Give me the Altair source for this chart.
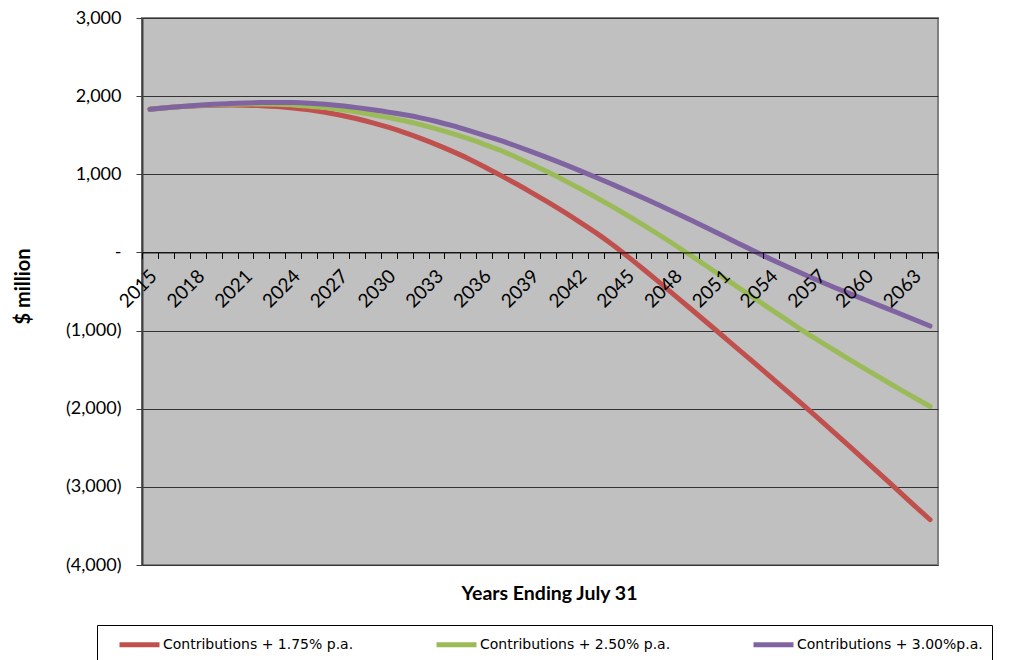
import altair as alt
import pandas as pd

# Fiscal years (ending July 31)
YEARS = [2015, 2016, 2017, 2018, 2019, 2020, 2021, 2022, 2023, 2024,
         2025, 2026, 2027, 2028, 2029, 2030, 2031, 2032, 2033, 2034,
         2035, 2036, 2037, 2038, 2039, 2040, 2041, 2042, 2043, 2044,
         2045, 2046, 2047, 2048, 2049, 2050, 2051, 2052, 2053, 2054,
         2055, 2056, 2057, 2058, 2059, 2060, 2061, 2062, 2063, 2064]

# Projected balance, $ million
RATE_175 = [1833, 1851, 1866, 1877, 1884, 1887, 1885, 1878, 1866, 1848,
            1824, 1793, 1755, 1710, 1658, 1599, 1533, 1460, 1380, 1293,
            1200, 1097, 989, 878, 763, 643, 518, 388, 253, 108,
            -50, -215, -384, -555, -727, -900, -1073, -1246, -1420, -1595,
            -1771, -1948, -2127, -2308, -2491, -2676, -2862, -3049, -3237, -3420]
RATE_250 = [1833, 1852, 1868, 1880, 1890, 1897, 1901, 1900, 1896, 1888,
            1872, 1853, 1828, 1797, 1762, 1725, 1685, 1635, 1580, 1520,
            1455, 1384, 1307, 1219, 1126, 1028, 925, 818, 707, 592,
            473, 350, 223, 92, -43, -180, -317, -454, -591, -728,
            -864, -1000, -1128, -1254, -1378, -1500, -1620, -1739, -1856, -1972]
RATE_300 = [1833, 1852, 1868, 1882, 1895, 1905, 1913, 1918, 1920, 1918,
            1910, 1897, 1878, 1853, 1825, 1795, 1761, 1722, 1676, 1622,
            1562, 1499, 1434, 1362, 1287, 1210, 1130, 1047, 962, 875,
            787, 697, 604, 509, 412, 313, 213, 112, 11, -86,
            -181, -273, -362, -448, -531, -612, -693, -775, -858, -942]

SERIES = ["Contributions + 1.75% p.a.",
          "Contributions + 2.50% p.a.",
          "Contributions + 3.00%p.a."]
COLORS = ["#C0504D", "#9BBB59", "#8064A2"]

Y_TICKS = [3000, 2000, 1000, 0, -1000, -2000, -3000, -4000]
Y_MIN, Y_MAX = -4000, 3000

W, H = 796, 547

rows = []
for name, vals in zip(SERIES, [RATE_175, RATE_250, RATE_300]):
    for yr, v in zip(YEARS, vals):
        rows.append({"year": yr, "value": v, "series": name})
df = pd.DataFrame(rows)

# category boundaries: ticks sit between years, labels on the year itself
x_bounds = [y - 0.5 for y in YEARS] + [YEARS[-1] + 0.5]
zero_offset = -H * (0 - Y_MIN) / (Y_MAX - Y_MIN)   # lift the x axis up to the zero line
half_band = W / len(YEARS) / 2

x_axis = alt.Axis(
    values=x_bounds, offset=zero_offset, grid=False, zindex=1,
    domainColor="black", domainWidth=1, tickColor="black", tickSize=6, tickWidth=1,
    labelAngle=-45, labelAlign="right", labelBaseline="top",
    labelOffset=half_band - 3, labelPadding=8, labelFlush=False, labelOverlap=False,
    labelExpr="(datum.value + 0.5) % 3 == 2 ? toString(datum.value + 0.5) : ''",
    labelFont="Lato", labelFontSize=19, labelColor="black",
    title="Years Ending July 31", titleFont="Lato", titleFontSize=19.5, titleFontWeight="bold",
    titleColor="black", titleX=W / 2 + 9, titleY=341, titleAlign="center", titleBaseline="middle",
)

y_axis = alt.Axis(
    values=Y_TICKS, grid=True, gridColor="#333333", gridWidth=1,
    domainColor="#404040", domainWidth=2, tickColor="#404040", tickSize=6,
    labelPadding=15, labelFont="Lato", labelFontSize=18, labelColor="black",
    labelExpr="datum.value == 0 ? '-' : (datum.value < 0 ? '(' + format(-datum.value, ',') + ')' : format(datum.value, ','))",
    title="$ million", titleFont="Lato", titleFontSize=20, titleFontWeight="bold",
    titleColor="black", titleX=-119, titleY=268, titleAngle=-90,
    titleAlign="center", titleBaseline="middle",
)

# wide, flat line swatch in a short legend row
legend = alt.Legend(
    title=None, orient="none", legendX=-45, legendY=607,
    direction="horizontal", columns=3, columnPadding=69, gridAlign="all",
    symbolType="M-2.5,0H2.5", symbolSize=256, symbolStrokeWidth=5, symbolOffset=23,
    labelOffset=13, labelFont="DejaVu Sans", labelFontSize=14, labelColor="black",
    labelLimit=400, padding=9, strokeColor="black", fillColor="white",
)

chart = (
    alt.Chart(df)
    .mark_line(strokeWidth=5, strokeCap="round", interpolate="monotone")
    .encode(
        x=alt.X("year:Q", scale=alt.Scale(domain=[x_bounds[0], x_bounds[-1]], nice=False, zero=False), axis=x_axis),
        y=alt.Y("value:Q", scale=alt.Scale(domain=[Y_MIN, Y_MAX], nice=False), axis=y_axis),
        color=alt.Color("series:N", scale=alt.Scale(domain=SERIES, range=COLORS), legend=legend),
    )
    .properties(
        width=W, height=H,
        autosize=alt.AutoSizeParams(type="none"),
        padding={"left": 142, "top": 18, "right": 86, "bottom": 95},
    )
    .configure(background="white")
    .configure_view(fill="#C0C0C0", stroke="#808080", strokeWidth=2)
)

chart.save("out.html", embed_options={"renderer": "svg", "actions": False})
